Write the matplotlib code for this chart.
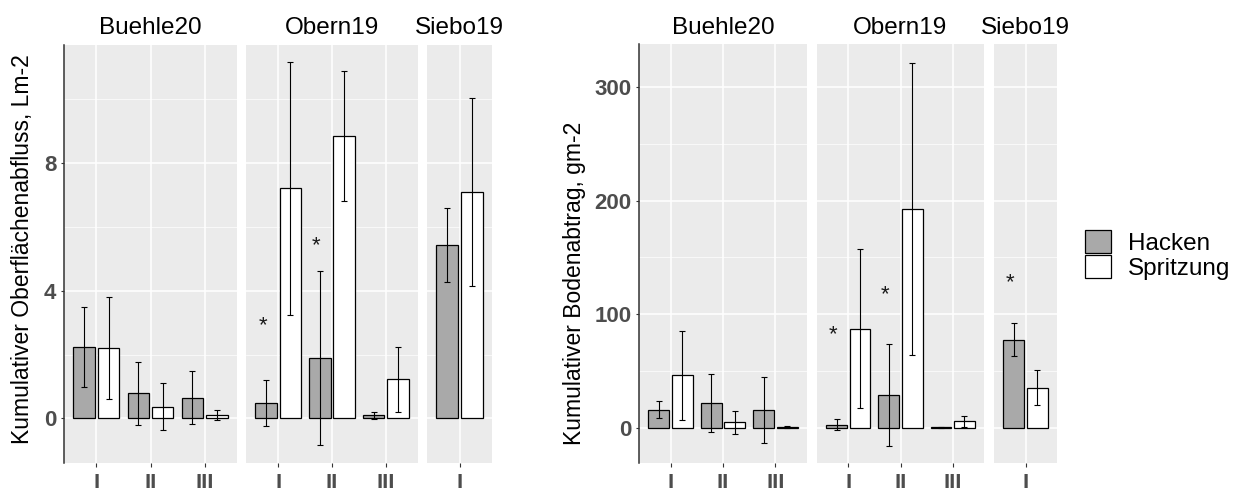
import numpy as np
import matplotlib.pyplot as plt
from matplotlib.patches import Patch
from matplotlib.ticker import MultipleLocator

plt.rcParams['font.family'] = ['Liberation Sans', 'DejaVu Sans']

sites = ["Buehle20", "Obern19", "Siebo19"]
stages = [["I", "II", "III"], ["I", "II", "III"], ["I"]]
treatments = ["Hacken", "Spritzung"]

# Oberflaechenabfluss, L m-2 (Buehle20 I-III, Obern19 I-III, Siebo19 I)
runoff_hacken = [2.24, 0.78, 0.65, 0.47, 1.90, 0.10, 5.43]
runoff_hacken_err = [1.26, 1.00, 0.82, 0.72, 2.73, 0.11, 1.16]
runoff_spritz = [2.21, 0.36, 0.10, 7.21, 8.85, 1.22, 7.10]
runoff_spritz_err = [1.60, 0.74, 0.16, 3.96, 2.05, 1.03, 2.94]
# (site, stage, y) of significance marks
runoff_stars = [(1, 0, 2.9), (1, 1, 5.4)]

# Bodenabtrag, g m-2
soil_hacken = [15.9, 21.7, 15.9, 2.9, 29.1, 0.3, 77.7]
soil_hacken_err = [7.6, 25.7, 28.9, 5.2, 44.9, 0.3, 14.4]
soil_spritz = [46.2, 4.9, 1.0, 87.4, 192.7, 5.8, 35.3]
soil_spritz_err = [39.0, 10.0, 0.8, 70.0, 128.8, 4.7, 15.4]
soil_stars = [(1, 0, 82), (1, 1, 117), (2, 0, 128)]

W, H = 1256, 488
fig = plt.figure(figsize=(W / 100, H / 100), dpi=100)

GREY = "#A9A9A9"
TICKCOL = "#4D4D4D"


def add_px_axes(x0, x1, y0, y1):
    return fig.add_axes([x0 / W, 1 - y1 / H, (x1 - x0) / W, (y1 - y0) / H])


def draw_group(panel_x, y0, y1, ylim, major, minor,
               hacken, hacken_err, spritz, spritz_err, stars,
               ylabel, ylabel_xy):
    k = 0
    for i, (site, st) in enumerate(zip(sites, stages)):
        x0, x1 = panel_x[i]
        ax = add_px_axes(x0, x1, y0, y1)
        n = len(st)
        pos = np.arange(n)
        h, he = hacken[k:k + n], hacken_err[k:k + n]
        s, se = spritz[k:k + n], spritz_err[k:k + n]
        k += n

        ax.set_facecolor("#EBEBEB")
        ax.bar(pos - 0.225, h, 0.4, color=GREY, edgecolor="black", lw=0.9, zorder=3)
        ax.bar(pos + 0.225, s, 0.4, color="white", edgecolor="black", lw=0.9, zorder=3)
        ax.errorbar(pos - 0.225, h, yerr=he, fmt="none", ecolor="black",
                    elinewidth=0.8, capsize=2.3, capthick=0.8, zorder=4)
        ax.errorbar(pos + 0.225, s, yerr=se, fmt="none", ecolor="black",
                    elinewidth=0.8, capsize=2.3, capthick=0.8, zorder=4)
        for si, stg, yv in stars:
            if si == i:
                ax.text(stg - 0.29, yv, "*", ha="center", va="center",
                        fontsize=16, color="#1a1a1a", zorder=5)

        ax.set_xlim(-0.6, n - 0.4)
        ax.set_ylim(*ylim)
        ax.yaxis.set_major_locator(MultipleLocator(major))
        ax.yaxis.set_minor_locator(MultipleLocator(minor))
        ax.set_xticks(pos, st)
        ax.grid(which="major", color="white", lw=1.1, zorder=0)
        ax.grid(which="minor", axis="y", color="white", lw=0.5, zorder=0)
        ax.set_axisbelow(True)
        for sp in ax.spines.values():
            sp.set_visible(False)

        # stage labels sit low, partly beyond the lower figure edge
        ax.tick_params(axis="x", length=3, width=0.8, color="#333333", pad=4,
                       labelsize=16, labelcolor=TICKCOL)
        for lab in ax.get_xticklabels():
            lab.set_fontweight("bold")
        ax.tick_params(axis="y", which="minor", length=0)
        if i == 0:
            ax.spines["left"].set_visible(True)
            ax.spines["left"].set_color("#333333")
            ax.spines["left"].set_linewidth(1.1)
            ax.tick_params(axis="y", length=2.5, width=0.8, color="#333333", pad=3,
                           labelsize=16, labelcolor=TICKCOL)
            for lab in ax.get_yticklabels():
                lab.set_fontweight("bold")
        else:
            ax.tick_params(axis="y", which="both", left=False, labelleft=False)

        fig.text((x0 + x1) / 2 / W, 1 - 34 / H, site, ha="center", va="baseline",
                 fontsize=17.5)

    fig.text(ylabel_xy[0] / W, 1 - ylabel_xy[1] / H, ylabel, rotation=90,
             ha="center", va="center", fontsize=16.5)


# Oberflaechenabfluss
draw_group([(64, 237), (246, 418), (427, 492)], 45, 463, (-1.4, 11.7), 4, 2,
           runoff_hacken, runoff_hacken_err, runoff_spritz, runoff_spritz_err,
           runoff_stars, "Kumulativer Oberflächenabfluss, Lm-2", (23, 249))

# Bodenabtrag
draw_group([(639, 807), (817, 984), (994, 1057)], 44, 463, (-31, 338), 100, 50,
           soil_hacken, soil_hacken_err, soil_spritz, soil_spritz_err,
           soil_stars, "Kumulativer Bodenabtrag, gm-2", (574, 283))

handles = [Patch(facecolor=GREY, edgecolor="black", lw=0.9),
           Patch(facecolor="white", edgecolor="black", lw=0.9)]
fig.legend(handles, treatments, loc="upper left", bbox_to_anchor=(1085 / W, 1 - 230 / H),
           frameon=False, fontsize=17.5, borderpad=0, borderaxespad=0,
           handlelength=1.07, handleheight=1.1, handletextpad=0.7, labelspacing=0)

fig.savefig("out.png", dpi=100)
